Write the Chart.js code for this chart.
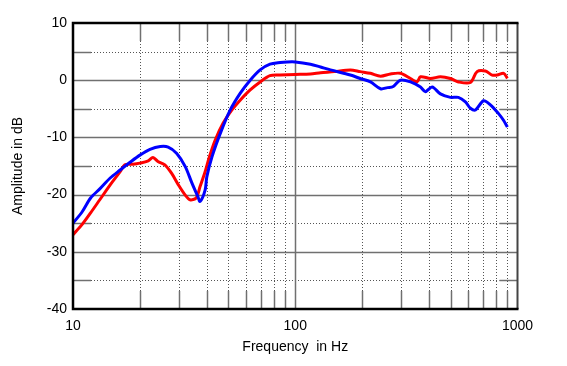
<!DOCTYPE html>
<html>
<head>
<meta charset="utf-8">
<script src="https://cdn.jsdelivr.net/npm/chart.js@4/dist/chart.umd.min.js"></script>
<style>
    body { margin: 0; background: #fff; }
    canvas { display: block; }
</style>
</head>
<body>
<canvas id="fr-chart" width="567" height="366"></canvas>
<script>
// Frequency response, two curves
const xTicks = [10, 100, 1000];
const yTicks = [-40, -30, -20, -10, 0, 10];

const blueFreq = [10, 11, 12, 13.2, 14.7, 16.3, 18, 20, 22.2, 24.7, 26.8, 29.3, 32, 34.3, 36.5, 37.3, 39.3, 40, 42.2, 46, 51, 56.5, 62.7, 69.5, 77, 85.5, 92, 100, 117, 130, 144, 177, 196, 218, 242, 260, 276, 297, 330, 366, 385, 413, 450, 499, 542, 583, 614, 647, 703, 755, 820, 865, 901];
const blueDb = [-25.0, -23.0, -20.6, -19.0, -17.1, -15.7, -14.4, -13.1, -12.1, -11.6, -11.7, -12.8, -15.1, -18.0, -20.4, -21.2, -19.2, -16.9, -13.4, -9.3, -5.2, -2.3, 0, 1.8, 2.8, 3.1, 3.2, 3.2, 2.8, 2.3, 1.8, 0.9, 0.3, -0.3, -1.5, -1.3, -1.1, 0, -0.3, -1.2, -2.0, -1.2, -2.4, -3.0, -3.0, -3.8, -4.9, -5.2, -3.6, -4.3, -5.8, -7.0, -8.2];

const redFreq = [10, 11, 12, 13.2, 14.7, 16.3, 17.1, 18.6, 20, 21.8, 22.9, 24.1, 25.9, 27.8, 29.8, 32, 33.6, 35.8, 37.3, 39.3, 41, 43.6, 47.4, 51.9, 56.5, 62.7, 69.5, 77, 85.5, 100, 117, 130, 150, 177, 196, 218, 242, 268, 297, 330, 353, 366, 406, 450, 499, 542, 614, 658, 717, 769, 810, 867, 901];
const redDb = [-27.0, -25.2, -23.2, -20.9, -18.3, -16.0, -14.8, -14.7, -14.5, -14.1, -13.5, -14.2, -14.8, -16.3, -18.3, -20.1, -20.9, -20.6, -18.6, -16.0, -13.5, -10.5, -7.5, -5.2, -3.5, -1.7, -0.3, 0.8, 0.9, 1.0, 1.1, 1.3, 1.5, 1.8, 1.5, 1.2, 0.7, 1.1, 1.2, 0.3, -0.3, 0.6, 0.3, 0.6, 0.3, -0.3, -0.4, 1.5, 1.6, 0.9, 0.9, 1.2, 0.3];

const toPoints = (xs, ys) => xs.map((x, i) => ({ x, y: ys[i] }));

// grid: solid at decades / 10 dB, dotted with short solid ends elsewhere
const gridPlugin = {
    id: 'freqGrid',
    beforeDatasetsDraw(chart) {
        const { ctx, chartArea: a, scales: { x, y } } = chart;
        const stub = 18;
        ctx.save();
        ctx.lineWidth = 1;

        const hLine = (py, x0, x1, dash) => {
            ctx.setLineDash(dash);
            ctx.beginPath(); ctx.moveTo(x0, py); ctx.lineTo(x1, py); ctx.stroke();
        };
        const vLine = (px, y0, y1, dash) => {
            ctx.setLineDash(dash);
            ctx.beginPath(); ctx.moveTo(px, y0); ctx.lineTo(px, y1); ctx.stroke();
        };

        // horizontal
        for (let v = -35; v < 10; v += 5) {
            const py = Math.round(y.getPixelForValue(v)) + 0.5;
            if (v % 10 === 0) {
                ctx.strokeStyle = '#707070';
                ctx.lineWidth = 1.5;
                hLine(py, a.left, a.right, []);
                ctx.lineWidth = 1;
            } else {
                ctx.strokeStyle = '#555';
                hLine(py, a.left + stub, a.right - stub, [1, 2]);
                ctx.strokeStyle = '#707070';
                ctx.lineWidth = 1.5;
                hLine(py, a.left, a.left + stub, []);
                hLine(py, a.right - stub, a.right, []);
                ctx.lineWidth = 1;
            }
        }

        // vertical
        [10, 100].forEach(dec => {
            for (let m = 1; m < 10; m++) {
                const f = dec * m;
                if (f === 10) continue;
                const px = Math.round(x.getPixelForValue(f)) + 0.5;
                if (m === 1) {
                    ctx.strokeStyle = '#707070';
                    ctx.lineWidth = 1.5;
                    vLine(px, a.top, a.bottom, []);
                    ctx.lineWidth = 1;
                } else {
                    ctx.strokeStyle = '#555';
                    vLine(px, a.top + stub, a.bottom - stub, [1, 2]);
                    ctx.strokeStyle = '#707070';
                    ctx.lineWidth = 1.5;
                    vLine(px, a.top, a.top + stub, []);
                    vLine(px, a.bottom - stub, a.bottom, []);
                    ctx.lineWidth = 1;
                }
            }
        });
        ctx.restore();
    },
    afterDatasetsDraw(chart) {
        const { ctx, chartArea: a } = chart;
        ctx.save();
        ctx.setLineDash([]);
        ctx.strokeStyle = '#444';
        ctx.lineWidth = 2;
        ctx.beginPath(); ctx.moveTo(a.right, a.top); ctx.lineTo(a.right, a.bottom); ctx.stroke();
        ctx.strokeStyle = '#000';
        ctx.lineWidth = 2.5;
        ctx.beginPath();
        ctx.moveTo(a.right + 1, a.top);
        ctx.lineTo(a.left, a.top);
        ctx.lineTo(a.left, a.bottom);
        ctx.lineTo(a.right + 1, a.bottom);
        ctx.stroke();
        ctx.restore();
    }
};

const font = { family: '"Liberation Sans", Arial, sans-serif', size: 14 };

new Chart(document.getElementById('fr-chart'), {
    type: 'line',
    data: {
        datasets: [
            { label: 'blue', data: toPoints(blueFreq, blueDb), borderColor: '#0000ff', borderWidth: 3, pointRadius: 0, tension: 0.3 },
            { label: 'red', data: toPoints(redFreq, redDb), borderColor: '#ff0000', borderWidth: 3, pointRadius: 0, tension: 0.3 }
        ]
    },
    options: {
        responsive: false,
        animation: false,
        layout: { padding: { left: 0, right: 49.5, top: 23, bottom: 0 } },
        plugins: { legend: { display: false }, tooltip: { enabled: false } },
        scales: {
            x: {
                type: 'logarithmic',
                min: 10, max: 1000,
                grid: { display: false, drawTicks: false },
                border: { display: false },
                afterBuildTicks: s => { s.ticks = xTicks.map(v => ({ value: v })); },
                afterFit: s => { s.height = 57; },
                ticks: { color: '#000', font, padding: 9, maxRotation: 0, autoSkip: false, callback: v => String(v) },
                title: { display: true, text: 'Frequency  in Hz', color: '#000', font, padding: { top: 0, bottom: 10 } }
            },
            y: {
                min: -40, max: 10,
                grid: { display: false, drawTicks: false },
                border: { display: false },
                afterBuildTicks: s => { s.ticks = yTicks.map(v => ({ value: v })); },
                afterFit: s => { s.width = 73; },
                ticks: { color: '#000', font, padding: 6 },
                title: { display: true, text: 'Amplitude in dB', color: '#000', font, padding: { top: 10, bottom: 0 } }
            }
        }
    },
    plugins: [gridPlugin]
});
</script>
</body>
</html>
